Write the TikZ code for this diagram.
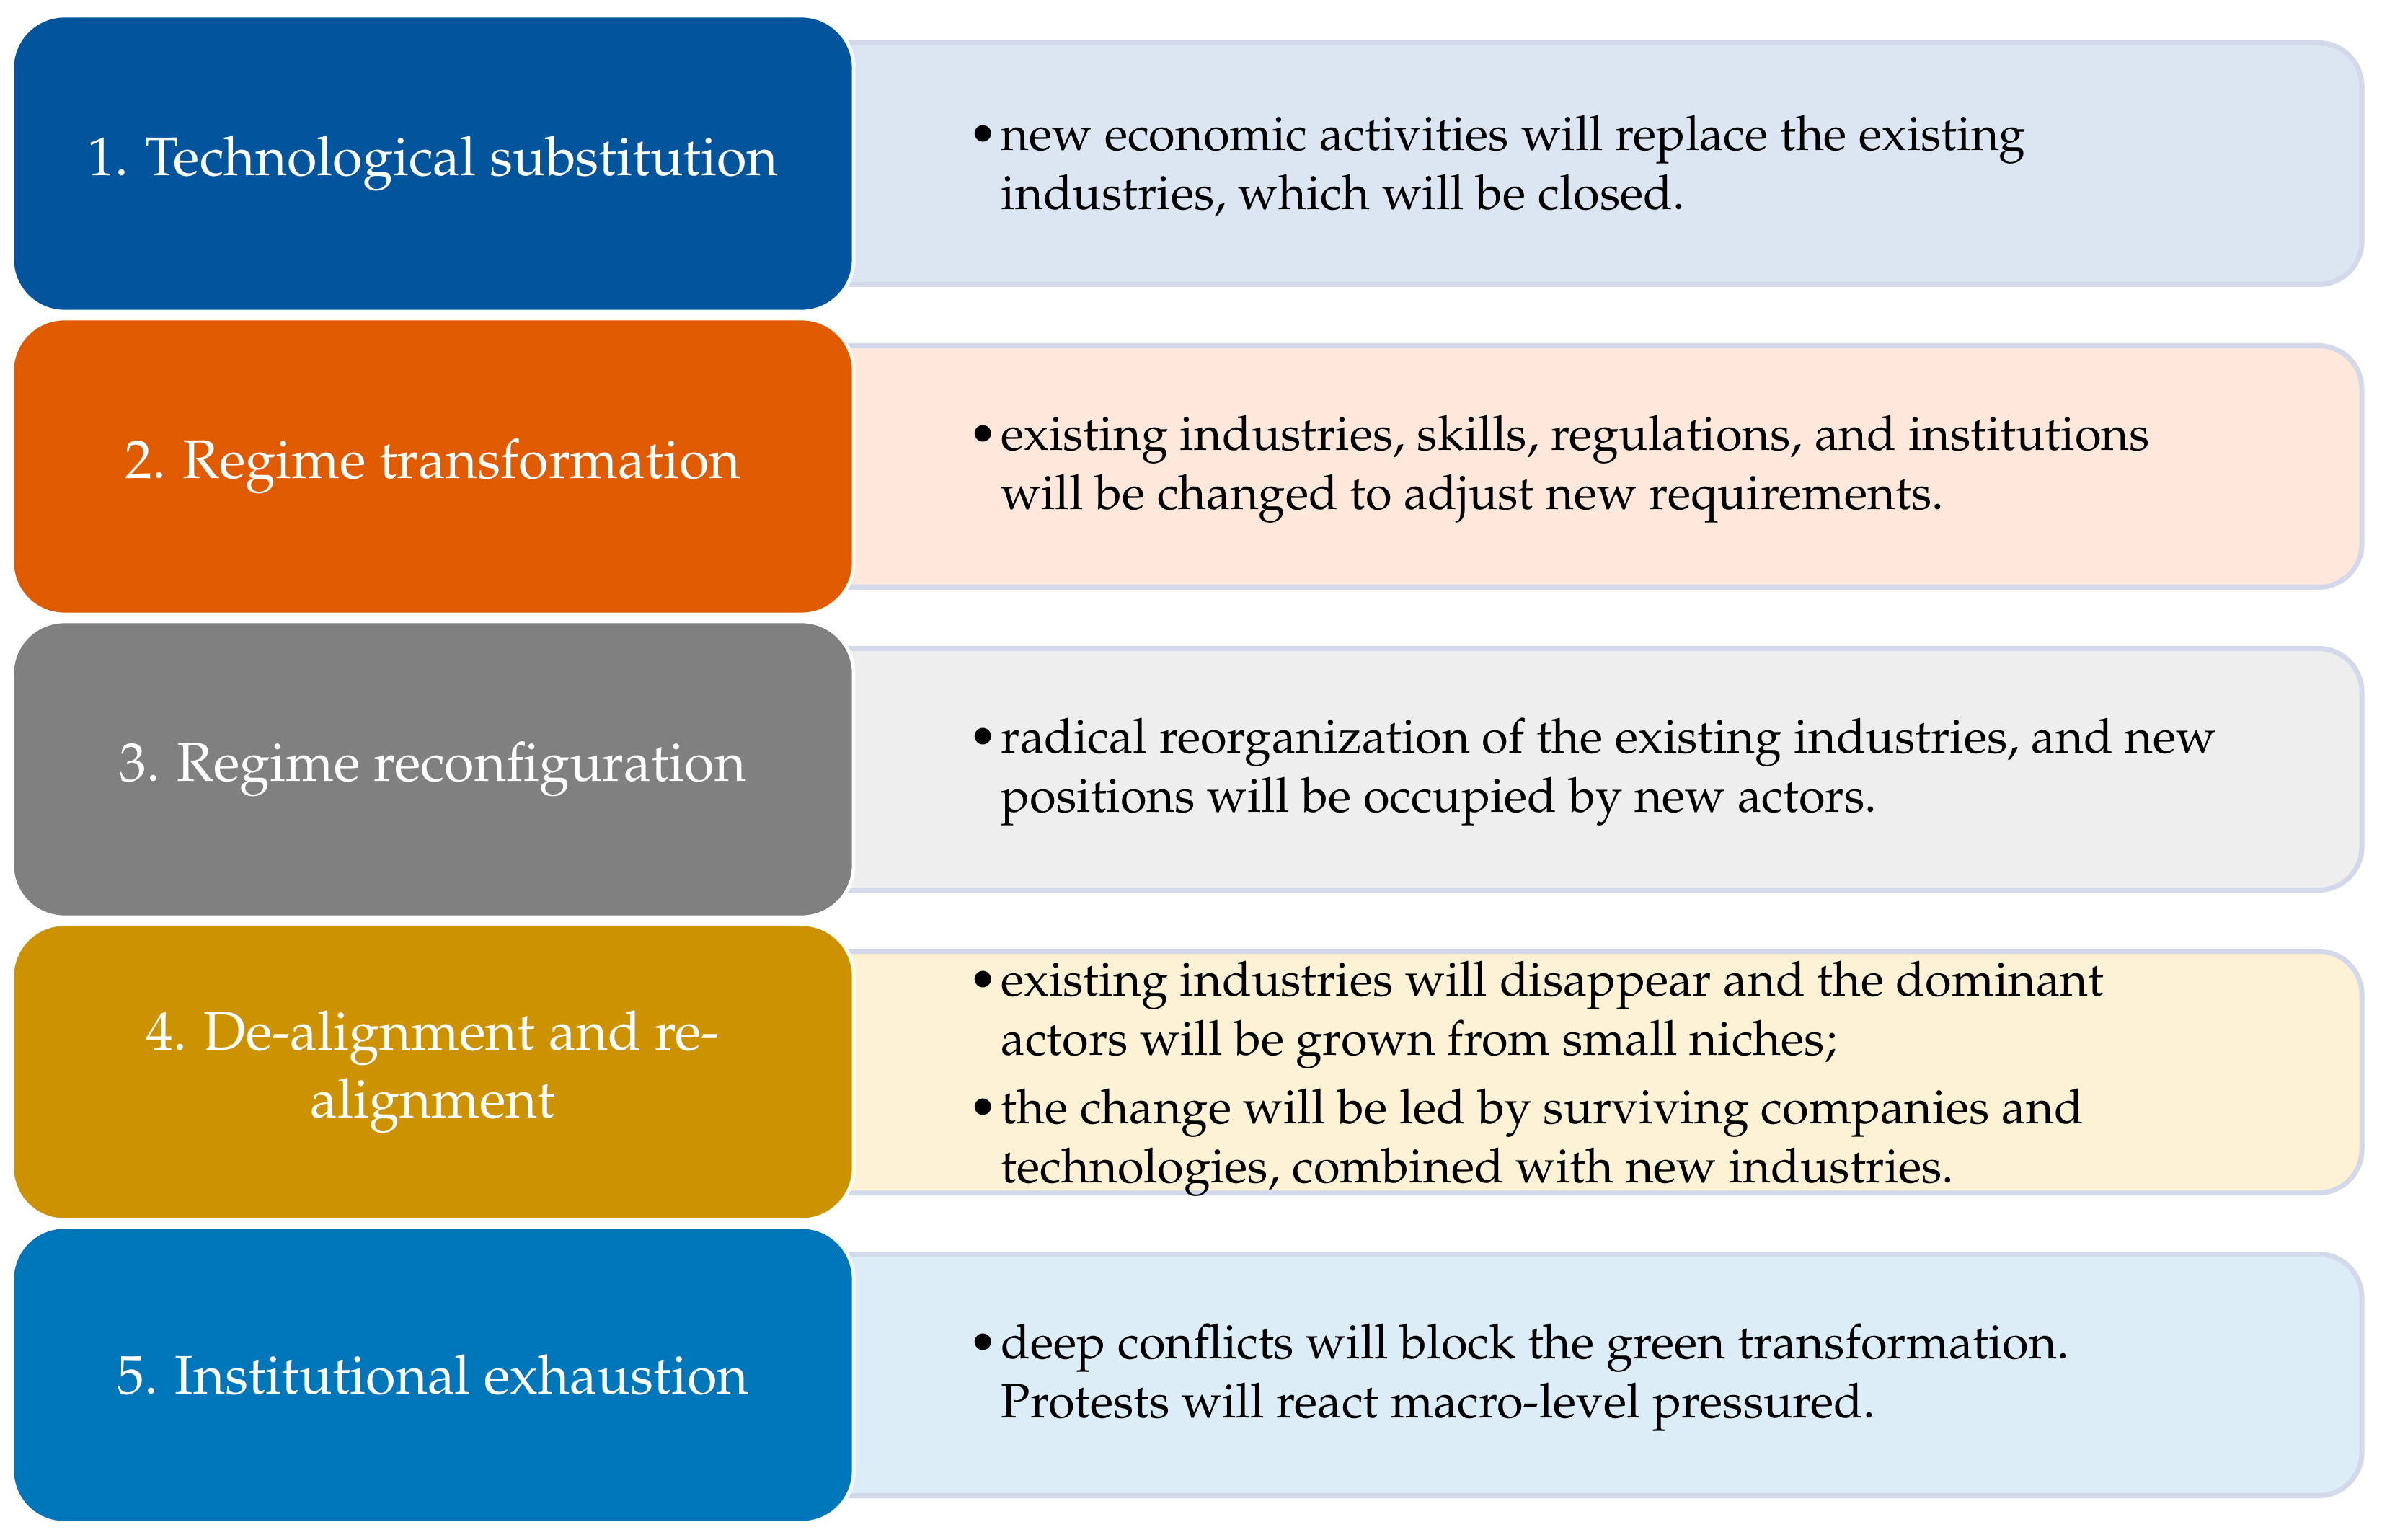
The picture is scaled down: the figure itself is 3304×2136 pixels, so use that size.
\documentclass[tikz,border=0pt]{standalone}
\usepackage[T1]{fontenc}
\usepackage{mathpazo}
\definecolor{c1}{HTML}{02559C}
\definecolor{c2}{HTML}{E05A00}
\definecolor{c3}{HTML}{808080}
\definecolor{c4}{HTML}{CC9200}
\definecolor{c5}{HTML}{0076BA}
\definecolor{r1}{HTML}{DCE6F3}
\definecolor{r2}{HTML}{FDE8DB}
\definecolor{r3}{HTML}{EEEEEE}
\definecolor{r4}{HTML}{FEF2D6}
\definecolor{r5}{HTML}{DDEDF8}
\definecolor{rborder}{HTML}{D3D9EA}
\newcommand\lfont{\fontsize{18.9}{23.5}\selectfont}
\newcommand\rfont{\fontsize{16.7}{20.5}\selectfont}
\newcommand\bul{\llap{\textbullet\kern1.3pt}}
\tikzset{
 lbox/.style={rounded corners=18pt, draw=white, line width=1.2pt, minimum width=291.75pt, minimum height=102.5pt, text=white, font=\lfont, align=center, inner sep=0pt},
 rbox/.style={rounded corners=15pt, draw=rborder, line width=1.75pt, minimum width=543pt, minimum height=83.75pt, inner sep=0pt},
 rtext/.style={anchor=west, align=left, font=\rfont, inner sep=0pt},
}
\begin{document}
\begin{tikzpicture}[x=0.25pt,y=-0.25pt]
\useasboundingbox (0,0) rectangle (3304,2136);
% right boxes
\node[rbox, fill=r1] (d1) at (2190,227) {};
\node[rbox, fill=r2] (d2) at (2190,647) {};
\node[rbox, fill=r3] (d3) at (2190,1067) {};
\node[rbox, fill=r4] (d4) at (2190,1487) {};
\node[rbox, fill=r5] (d5) at (2190,1907) {};
% left boxes
\node[lbox, fill=c1] (s1) at (600.5,227) {1. Technological substitution};
\node[lbox, fill=c2] (s2) at (600.5,647) {2. Regime transformation};
\node[lbox, fill=c3] (s3) at (600.5,1067) {3. Regime reconfiguration};
\node[lbox, fill=c4] (s4) at (600.5,1487) {4. De-alignment and re-\\alignment};
\node[lbox, fill=c5] (s5) at (600.5,1907) {5. Institutional exhaustion};
% right texts
\node[rtext] (t1) at (1388,231) {\bul new economic activities will replace the existing\\industries, which will be closed.};
\node[rtext] (t2) at (1388,651) {\bul existing industries, skills, regulations, and institutions\\will be changed to adjust new requirements.};
\node[rtext] (t3) at (1388,1071) {\bul radical reorganization of the existing industries, and new\\positions will be occupied by new actors.};
\node[rtext] (t4) at (1388,1496) {\bul existing industries will disappear and the dominant\\actors will be grown from small niches;\\[3.25pt]\bul the change will be led by surviving companies and\\technologies, combined with new industries.};
\node[rtext] (t5) at (1388,1911) {\bul deep conflicts will block the green transformation.\\Protests will react macro-level pressured.};
\end{tikzpicture}
\end{document}
